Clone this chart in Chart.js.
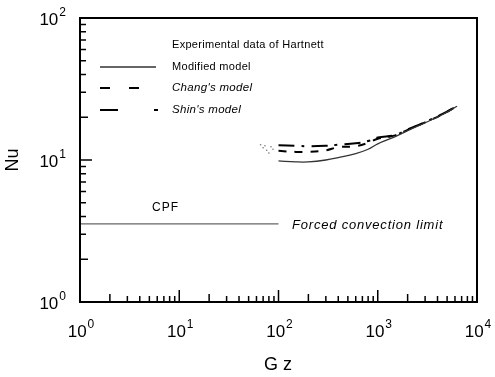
<!DOCTYPE html>
<html>
<head>
<meta charset="utf-8">
<script src="https://cdn.jsdelivr.net/npm/chart.js@4"></script>
<style>
    body { margin: 0; background: #fff; }
    canvas { display: block; }
</style>
</head>
<body>
<canvas id="nu_graph" width="495" height="377"></canvas>
<script>
// values
let gzModel = [100, 150, 200, 300, 400, 600, 800, 1000, 1500, 2000, 3000, 4500, 6300]
let nuModified = [9.85, 9.7, 9.7, 10.0, 10.4, 11.1, 11.9, 13.0, 14.6, 16.1, 18.3, 20.9, 23.9]
let nuChang = [11.6, 11.4, 11.4, 11.7, 12.3, 12.5, 13.2, 14.1, 14.9, 16.3, 18.4, 21.0, 24.0]
let nuShin = [12.7, 12.6, 12.5, 12.6, 12.8, 13.1, 13.6, 14.4, 15.0, 16.4, 18.5, 21.1, 24.1]
let gzExp = [66, 70, 73, 76, 80, 84, 88]
let nuExp = [12.8, 12.2, 12.6, 11.7, 11.2, 12.4, 11.9]
let gzLimit = [1, 100]
let nuLimit = [3.55, 3.55]
let decadeTicks = [0, 1, 2, 3, 4]
let legendLabels = ["Experimental data of Hartnett", "Modified model", "Chang's model", "Shin's model"]

let toPoints = (xs, ys) => xs.map((x, i) => ({ x: x, y: ys[i] }))

let drawPower = (ctx, exp, x, y, align) => {
    ctx.font = "17px 'Liberation Sans', Arial, sans-serif"
    let wBase = ctx.measureText("10").width
    ctx.font = "12px 'Liberation Sans', Arial, sans-serif"
    let wExp = ctx.measureText(String(exp)).width
    let total = wBase + wExp + 1
    let start = align == "center" ? x - total / 2 : x - total
    ctx.textAlign = "left"
    ctx.textBaseline = "alphabetic"
    ctx.font = "17px 'Liberation Sans', Arial, sans-serif"
    ctx.fillText("10", start, y)
    ctx.font = "12px 'Liberation Sans', Arial, sans-serif"
    ctx.fillText(String(exp), start + wBase + 1, y - 9)
}

let framePlugin = {
    id: "frame",
    afterDraw: (chart) => {
        let ctx = chart.ctx
        let a = chart.chartArea
        let xs = chart.scales.x
        let ys = chart.scales.y
        ctx.save()
        ctx.strokeStyle = "#000"
        ctx.fillStyle = "#000"
        ctx.lineWidth = 2
        ctx.strokeRect(a.left, a.top, a.right - a.left, a.bottom - a.top)
        // inward ticks on bottom and left axes
        ctx.lineWidth = 1.5
        decadeTicks.forEach(d => {
            for (let m = 1; m <= 9; m++) {
                if (d == 4 && m > 1) break
                let v = m * Math.pow(10, d)
                let len = m == 1 ? 12 : (m == 2 ? 8 : 6)
                let px = xs.getPixelForValue(v)
                ctx.beginPath()
                ctx.moveTo(px, a.bottom)
                ctx.lineTo(px, a.bottom - len)
                ctx.stroke()
                if (d < 2 || (d == 2 && m == 1)) {
                    let py = ys.getPixelForValue(v)
                    ctx.beginPath()
                    ctx.moveTo(a.left, py)
                    ctx.lineTo(a.left + len, py)
                    ctx.stroke()
                }
            }
        })
        // tick labels
        decadeTicks.forEach(d => {
            drawPower(ctx, d, xs.getPixelForValue(Math.pow(10, d)) + 1, 337, "center")
            if (d <= 2)
                drawPower(ctx, d, 66, ys.getPixelForValue(Math.pow(10, d)) + 7, "right")
        })
        // axis titles
        ctx.font = "18px 'Liberation Sans', Arial, sans-serif"
        ctx.textAlign = "center"
        ctx.textBaseline = "middle"
        ctx.fillText("G z", 278, 365)
        ctx.save()
        ctx.translate(13, 160)
        ctx.rotate(-Math.PI / 2)
        ctx.fillText("Nu", 0, 0)
        ctx.restore()
        // legend
        ctx.textAlign = "left"
        ctx.letterSpacing = "0.3px"
        ctx.font = "11px 'Liberation Sans', Arial, sans-serif"
        ctx.fillText(legendLabels[0], 172, 45)
        ctx.fillText(legendLabels[1], 172, 67)
        ctx.font = "italic 11.5px 'Liberation Sans', Arial, sans-serif"
        ctx.fillText(legendLabels[2], 172, 88)
        ctx.fillText(legendLabels[3], 172, 110)
        ctx.strokeStyle = "#333"
        ctx.lineWidth = 1.3
        ctx.beginPath()
        ctx.moveTo(100, 67)
        ctx.lineTo(156, 67)
        ctx.stroke()
        ctx.strokeStyle = "#000"
        ctx.lineWidth = 2
        ctx.beginPath()
        ctx.moveTo(100, 88); ctx.lineTo(110, 88)
        ctx.moveTo(129, 88); ctx.lineTo(139, 88)
        ctx.moveTo(100, 110); ctx.lineTo(118, 110)
        ctx.moveTo(154, 110); ctx.lineTo(158, 110)
        ctx.stroke()
        // annotations
        ctx.letterSpacing = "1px"
        ctx.font = "12px 'Liberation Sans', Arial, sans-serif"
        ctx.fillText("CPF", 152, 208)
        ctx.letterSpacing = "0.8px"
        ctx.font = "italic 13px 'Liberation Sans', Arial, sans-serif"
        ctx.fillText("Forced convection limit", 292, 225)
        ctx.restore()
    }
}

new Chart("nu_graph", {
    type: "line",
    data: {
        datasets: [{
            label: legendLabels[0],
            data: toPoints(gzExp, nuExp),
            showLine: false,
            pointRadius: 0.8,
            pointBackgroundColor: "#777",
            pointBorderWidth: 0
        }, {
            label: legendLabels[1],
            data: toPoints(gzModel, nuModified),
            borderColor: "#333",
            borderWidth: 1.3,
            pointRadius: 0,
            tension: 0.4
        }, {
            label: legendLabels[2],
            data: toPoints(gzModel, nuChang),
            borderColor: "#000",
            borderWidth: 2,
            borderDash: [8, 8],
            pointRadius: 0,
            tension: 0.4
        }, {
            label: legendLabels[3],
            data: toPoints(gzModel, nuShin),
            borderColor: "#000",
            borderWidth: 2,
            borderDash: [16, 7, 3, 7],
            pointRadius: 0,
            tension: 0.4
        }, {
            label: "Forced convection limit",
            data: toPoints(gzLimit, nuLimit),
            borderColor: "#666",
            borderWidth: 1.2,
            pointRadius: 0
        }]
    },
    options: {
        responsive: false,
        animation: false,
        layout: { padding: { left: 80, right: 18, top: 18, bottom: 75 } },
        plugins: { legend: { display: false }, tooltip: { enabled: false } },
        scales: {
            x: {
                type: "logarithmic",
                min: 1,
                max: 10000,
                ticks: { display: false },
                grid: { display: false, drawTicks: false },
                border: { display: false }
            },
            y: {
                type: "logarithmic",
                min: 1,
                max: 100,
                ticks: { display: false },
                grid: { display: false, drawTicks: false },
                border: { display: false }
            }
        }
    },
    plugins: [framePlugin]
})
</script>
</body>
</html>
